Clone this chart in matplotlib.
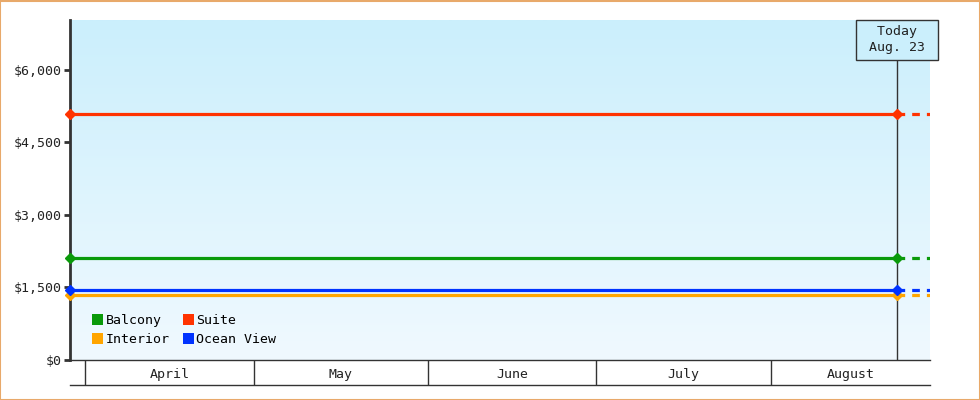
import numpy as np
import matplotlib
matplotlib.use("Agg")
import matplotlib.pyplot as plt
import matplotlib.transforms as mtrans
from matplotlib.patches import Patch, Rectangle
import pandas as pd

# datos del grafico
series = ["Balcony", "Interior", "Suite", "Ocean View"]
precios = [2110, 1345, 5090, 1448]
colores = ["#0a9a0a", "#ffa500", "#ff3300", "#0033ff"]

fecha_inicio = pd.Timestamp("2024-03-29 08:00")
fecha_hoy = pd.Timestamp("2024-08-23 12:00")
fecha_fin = pd.Timestamp("2024-08-29 08:00")
meses = ["April", "May", "June", "July", "August"]
inicio_meses = pd.to_datetime(["2024-04-01", "2024-05-01", "2024-06-01",
                               "2024-07-01", "2024-08-01"])
y_ticks = [0, 1500, 3000, 4500, 6000]

plt.rcParams["font.family"] = ["DejaVu Sans Mono"]
texto = "#222222"
oscuro = "#333333"

fig = plt.figure(figsize=(9.8, 4), dpi=100)
ax = fig.add_axes([70/980, 40/400, 860/980, 340/400])

# fondo degradado
grad = np.linspace(0, 1, 256).reshape(-1, 1)
cmap = matplotlib.colors.LinearSegmentedColormap.from_list("fondo", ["#f0f9ff", "#cbeffc"])
ax.imshow(grad, cmap=cmap, aspect="auto", extent=[0, 1, 0, 1], origin="lower",
          transform=ax.transAxes, zorder=0)

ax.set_xlim(fecha_inicio, fecha_fin)
ax.set_ylim(0, 7030)

for nombre, p, c in zip(series, precios, colores):
    ax.plot([fecha_inicio, fecha_hoy], [p, p], color=c, lw=2.3, zorder=3,
            marker="D", ms=5.5, clip_on=False, label=nombre)
    ax.plot([fecha_hoy, fecha_fin], [p, p], color=c, lw=2.3, zorder=3,
            dashes=(2.4, 2.2))

# linea de hoy
ax.axvline(fecha_hoy, color=oscuro, lw=1, zorder=2)
ax.annotate(" Today \n Aug. 23 ", xy=(fecha_hoy, 1), xycoords=("data", "axes fraction"),
            xytext=(0, -14.4), textcoords="offset points", ha="center", va="center",
            fontsize=9.5, color=texto, annotation_clip=False, zorder=5,
            linespacing=1.3,
            bbox=dict(boxstyle="square,pad=0.4", fc="#cbeffc", ec=oscuro, lw=1))

# ejes
ax.set_yticks(y_ticks)
ax.set_yticklabels(["${:,}".format(v) for v in y_ticks])
ax.tick_params(axis="y", length=4, width=2, color=oscuro, labelcolor=texto,
               labelsize=9.5, pad=2)
ax.set_xticks(inicio_meses)
ax.set_xticklabels([])
ax.tick_params(axis="x", which="major", length=18, width=1, color=oscuro, direction="out")
centros = [inicio_meses[i] + (inicio_meses[i+1] - inicio_meses[i]) / 2 for i in range(4)]
centros.append(inicio_meses[4] + (fecha_fin - inicio_meses[4]) / 2)
ax.set_xticks(centros, minor=True)
ax.set_xticklabels(meses, minor=True)
ax.tick_params(axis="x", which="minor", length=0, labelsize=9.5, labelcolor=texto, pad=6)

for s in ["top", "right"]:
    ax.spines[s].set_visible(False)
ax.spines["left"].set_linewidth(2)
ax.spines["left"].set_color(oscuro)
ax.spines["bottom"].set_linewidth(1)
ax.spines["bottom"].set_color(oscuro)

# linea inferior de la tabla de meses
tr = mtrans.blended_transform_factory(ax.transAxes, ax.transAxes)
ax.plot([0, 1], [-25/340, -25/340], transform=tr, color=oscuro, lw=1, clip_on=False)

ax.legend(handles=[Patch(fc=c, ec="none", label=n) for n, c in zip(series, colores)],
          loc="lower left", ncol=2, frameon=False, fontsize=9.5,
          handlelength=0.85, handleheight=0.85, handletextpad=0.2,
          columnspacing=0.95, labelspacing=0.45, bbox_to_anchor=(0.012, 0.006))

fig.patches.append(Rectangle((0.0005, 0.001), 0.999, 0.997, transform=fig.transFigure,
                             fill=False, ec="#e8a96a", lw=1.5))

fig.savefig("out.png", dpi=100)
